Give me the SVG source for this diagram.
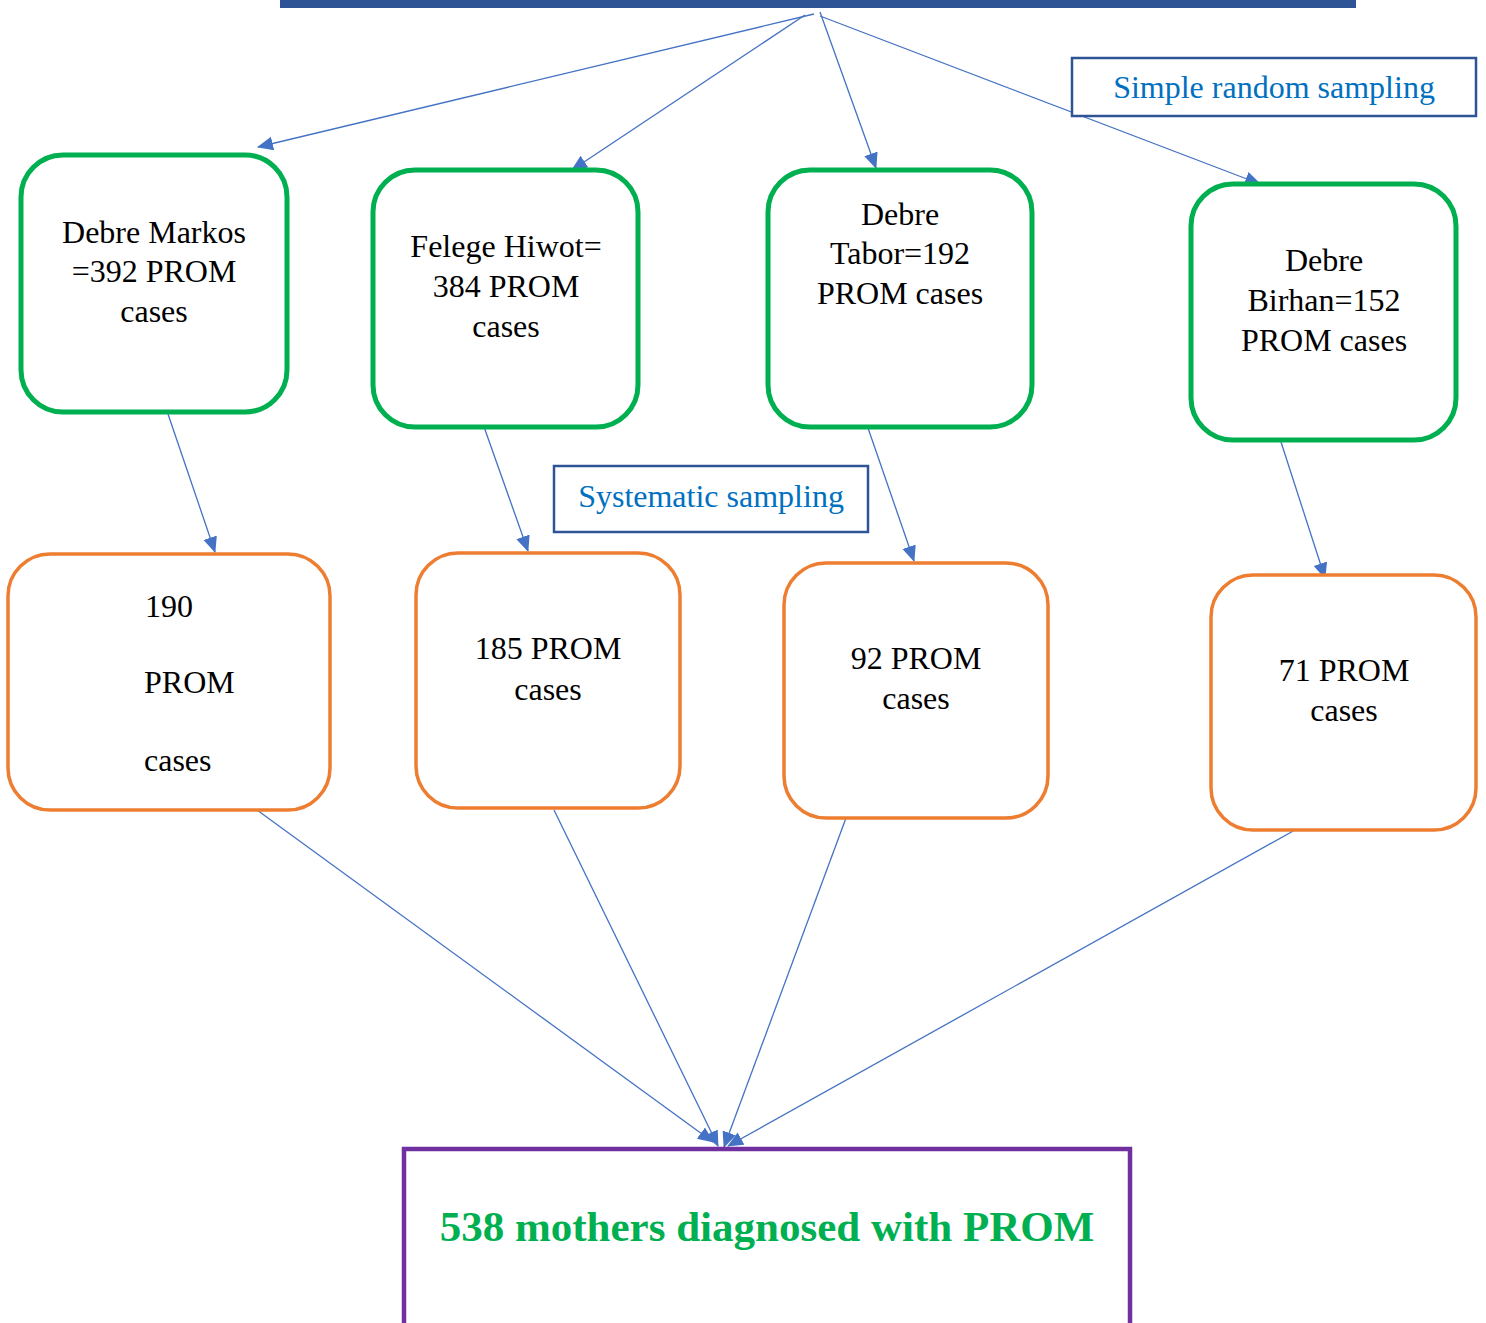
<svg xmlns="http://www.w3.org/2000/svg" width="1486" height="1323" viewBox="0 0 1486 1323">
<style>
.g{fill:#fff;stroke:#00B050;stroke-width:5}
.o{fill:#fff;stroke:#ED7D31;stroke-width:3.5}
.t{font-family:"Liberation Serif","Times New Roman",serif;font-size:32px;fill:#000;text-anchor:middle}
.s{text-anchor:start}
.l{font-family:"Liberation Serif","Times New Roman",serif;font-size:32px;fill:#0070C0;text-anchor:middle}
.lb{fill:#fff;stroke:#2F5496;stroke-width:2.5}
.c{stroke:#4472C4;stroke-width:1.3;fill:none;marker-end:url(#ah)}
</style>
<defs>
<marker id="ah" markerUnits="userSpaceOnUse" markerWidth="18" markerHeight="16" refX="15" refY="7" orient="auto">
<path d="M0,0 L16,7 L0,14 Z" fill="#4472C4"/>
</marker>
</defs>
<rect width="1486" height="1323" fill="#fff"/>
<rect id="topbar" x="280" y="0" width="1076" height="8" fill="#2F5496"/>
<g id="connectors">
<line class="c" x1="814" y1="14" x2="258" y2="147"/>
<line class="c" x1="805" y1="15" x2="572" y2="170"/>
<line class="c" x1="820" y1="12" x2="876" y2="168"/>
<line class="c" x1="820" y1="16" x2="1260" y2="184"/>
<line class="c" x1="168" y1="414" x2="215" y2="552"/>
<line class="c" x1="483" y1="424" x2="528" y2="551"/>
<line class="c" x1="868" y1="428" x2="914" y2="561"/>
<line class="c" x1="1281" y1="442" x2="1325" y2="578"/>
<line class="c" x1="257" y1="810" x2="713" y2="1142"/>
<line class="c" x1="554" y1="810" x2="718" y2="1146"/>
<line class="c" x1="846" y1="818" x2="724" y2="1147"/>
<line class="c" x1="1295" y1="830" x2="728" y2="1146"/>
</g>
<g id="label-srs">
<rect class="lb" x="1072" y="58" width="404" height="58"/>
<text class="l" x="1274" y="98">Simple random sampling</text>
</g>
<g id="label-sys">
<rect class="lb" x="554" y="466" width="314" height="66"/>
<text class="l" x="711" y="507">Systematic sampling</text>
</g>
<g id="g1">
<rect class="g" x="21" y="155" width="266" height="257" rx="42"/>
<text class="t" x="154" y="243">Debre Markos</text>
<text class="t" x="154" y="282">=392 PROM</text>
<text class="t" x="154" y="322">cases</text>
</g>
<g id="g2">
<rect class="g" x="373" y="170" width="265" height="257" rx="42"/>
<text class="t" x="506" y="257">Felege Hiwot=</text>
<text class="t" x="506" y="297">384 PROM</text>
<text class="t" x="506" y="337">cases</text>
</g>
<g id="g3">
<rect class="g" x="768" y="170" width="264" height="257" rx="42"/>
<text class="t" x="900" y="225">Debre</text>
<text class="t" x="900" y="264">Tabor=192</text>
<text class="t" x="900" y="304">PROM cases</text>
</g>
<g id="g4">
<rect class="g" x="1191" y="184" width="265" height="256" rx="42"/>
<text class="t" x="1324" y="271">Debre</text>
<text class="t" x="1324" y="311">Birhan=152</text>
<text class="t" x="1324" y="351">PROM cases</text>
</g>
<g id="o1">
<rect class="o" x="8" y="554" width="322" height="256" rx="42"/>
<text class="t s" x="145" y="617">190</text>
<text class="t s" x="144" y="693">PROM</text>
<text class="t s" x="144" y="771">cases</text>
</g>
<g id="o2">
<rect class="o" x="416" y="553" width="264" height="255" rx="42"/>
<text class="t" x="548" y="659">185 PROM</text>
<text class="t" x="548" y="700">cases</text>
</g>
<g id="o3">
<rect class="o" x="784" y="563" width="264" height="255" rx="42"/>
<text class="t" x="916" y="669">92 PROM</text>
<text class="t" x="916" y="709">cases</text>
</g>
<g id="o4">
<rect class="o" x="1211" y="575" width="265" height="255" rx="42"/>
<text class="t" x="1344" y="681">71 PROM</text>
<text class="t" x="1344" y="721">cases</text>
</g>
<g id="result">
<rect x="404" y="1149" width="726" height="200" fill="#fff" stroke="#7030A0" stroke-width="4.5"/>
<text x="767" y="1241" style="font-family:'Liberation Serif','Times New Roman',serif;font-size:43px;font-weight:bold;fill:#00B050;text-anchor:middle">538 mothers diagnosed with PROM</text>
</g>
</svg>
